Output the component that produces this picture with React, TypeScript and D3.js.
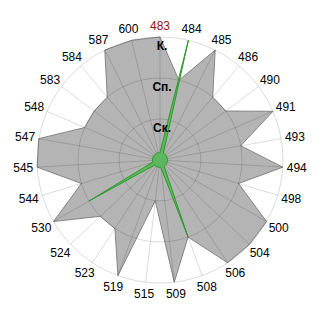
import React from "react";
import * as d3 from "d3";

const categories = ["483","484","485","486","490","491","493","494","498","500","504","506","508","509","515","519","523","524","530","544","545","547","548","583","584","587","600"];
const grayValues = [3,2,3,2,2,3,2,3,2,3,3,3,2,3,1,3,2,2,3,2,3,3,2,2,2,3,3];
const greenValues = [0,3,0,0,0,0,0,0,0,0,0,0,2,0,0,0,0,0,2,0,0,0,0,0,0,0,0];
const levelValues = [1,2,3];
const levelLabels = ["Ск.","Сп.","К."];
const highlighted = "483";

export default function App() {
  const W = 320, H = 320, cx = 160, cy = 160, R = 123;
  const n = categories.length;
  const angle = d3.scaleLinear().domain([0, n]).range([0, 2 * Math.PI]);
  const r = d3.scaleLinear().domain([0, 3]).range([0, R]);
  const pt = (i: number, rad: number): [number, number] => [
    cx + rad * Math.sin(angle(i)),
    cy - rad * Math.cos(angle(i)),
  ];
  const line = d3.line<[number, number]>().curve(d3.curveLinearClosed);
  const grayPath = line(grayValues.map((v, i) => pt(i, r(v)))) || "";
  const greenPath = line(greenValues.map((v, i) => pt(i, Math.max(r(v), 7.5)))) || "";
  const font = "'Liberation Sans', Arial, sans-serif";
  return (
    <svg width={W} height={H} style={{ position: "absolute", left: 0, top: 0, background: "#fff" }}>
      <path d={grayPath} fill="#b4b4b4" stroke="#858585" strokeWidth={1} />
      <g fill="none" stroke="rgba(0,0,0,0.14)" strokeWidth={1}>
        {levelValues.map((l) => (
          <circle key={l} cx={cx} cy={cy} r={r(l)} />
        ))}
        {categories.map((c, i) => {
          const [x, y] = pt(i, R);
          return <line key={c} x1={cx} y1={cy} x2={x} y2={y} />;
        })}
      </g>
      <path d={greenPath} fill="#5cb85c" stroke="#2f9a2f" strokeWidth={1} strokeLinejoin="round" />
      {levelValues.map((l, k) => (
        <text key={l} x={cx + 2} y={cy - r(l) + 13} textAnchor="middle" fontFamily={font} fontWeight="bold" fontSize={12} fill="#000">
          {levelLabels[k]}
        </text>
      ))}
      {categories.map((c, i) => {
        const a = angle(i);
        const s = Math.sin(a), co = Math.cos(a);
        const [px, py] = pt(i, R + 4);
        const x = px + 10 * s;
        const y = py - 7.5 * co + 4.3;
        return (
          <text key={c} x={x} y={y} textAnchor="middle" fontFamily={font} fontSize={12} fill={c === highlighted ? "#9b1010" : "#000"}>
            {c}
          </text>
        );
      })}
    </svg>
  );
}
